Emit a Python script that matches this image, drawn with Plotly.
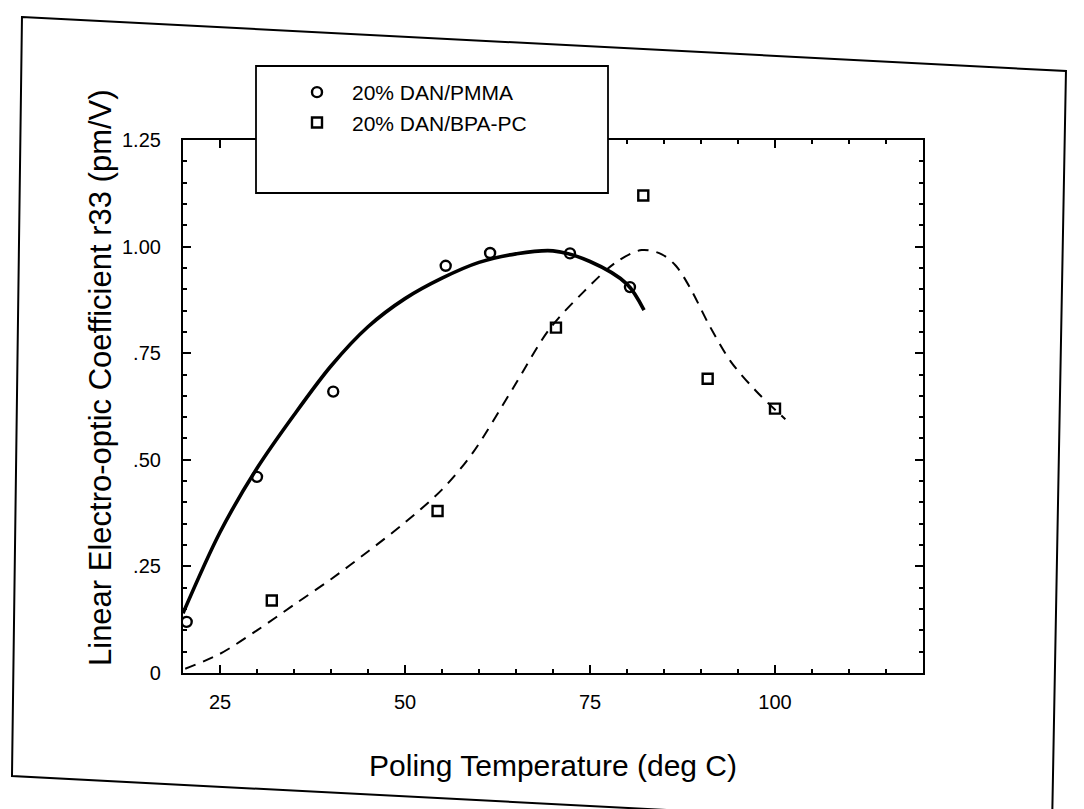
import plotly.graph_objects as go

# ---------------- data ----------------
pmma_temp = [20.5, 30, 40.3, 55.5, 61.5, 72.3, 80.4]
pmma_r33 = [0.12, 0.46, 0.66, 0.955, 0.985, 0.984, 0.905]

pc_temp = [32, 54.4, 70.4, 82.2, 90.9, 100]
pc_r33 = [0.17, 0.38, 0.81, 1.12, 0.69, 0.62]

pmma_fit_temp = [20, 25, 30, 35, 40, 45, 50, 55, 60, 65, 70, 75, 80, 82.3]
pmma_fit_r33 = [0.14, 0.33, 0.48, 0.605, 0.72, 0.812, 0.878, 0.926, 0.963, 0.983, 0.99, 0.965, 0.912, 0.851]

pc_fit_temp = [20.3, 25, 30, 35, 40, 45, 50, 55, 59.1, 64.5, 69.5, 74.2, 78.5, 82, 84.7, 86.6, 88.6, 91.1, 94, 97.4, 101.4]
pc_fit_r33 = [0.01, 0.045, 0.10, 0.16, 0.22, 0.285, 0.353, 0.43, 0.515, 0.665, 0.806, 0.895, 0.963, 0.992, 0.982, 0.955, 0.901, 0.816, 0.731, 0.662, 0.595]

x_ticks = [25, 50, 75, 100]
x_tick_text = ["25", "50", "75", "100"]
y_ticks = [0, 0.25, 0.5, 0.75, 1.0, 1.25]
y_tick_text = ["0", ".25", ".50", ".75", "1.00", "1.25"]

series_names = ["20% DAN/PMMA", "20% DAN/BPA-PC"]
x_title = "Poling Temperature (deg C)"
y_title = "Linear Electro-optic Coefficient r33 (pm/V)"

# ---------------- layout geometry ----------------
FONT = "Liberation Sans, Arial, Helvetica, sans-serif"
L, R, T, B = 183, 923, 140, 673
W, H = R - L, B - T


def paper(px, py):
    return (px - L) / W, (B - py) / H


fig = go.Figure()

fig.add_trace(go.Scatter(
    x=pmma_fit_temp, y=pmma_fit_r33, mode="lines",
    line=dict(color="black", width=3.6, shape="spline", smoothing=0.9),
    showlegend=False, hoverinfo="skip"))
fig.add_trace(go.Scatter(
    x=pc_fit_temp, y=pc_fit_r33, mode="lines",
    line=dict(color="black", width=2, shape="spline", smoothing=0.9, dash="11px,8px"),
    showlegend=False, hoverinfo="skip"))
fig.add_trace(go.Scatter(
    x=pmma_temp, y=pmma_r33, mode="markers", name=series_names[0],
    marker=dict(symbol="circle-open", size=10, color="black", line=dict(width=2.4))))
fig.add_trace(go.Scatter(
    x=pc_temp, y=pc_r33, mode="markers", name=series_names[1],
    marker=dict(symbol="square-open", size=10, color="black", line=dict(width=2.4))))

# outer (slightly skewed) frame of the scanned figure
frame = [(22, 17), (1066, 71), (1052, 830), (12, 776)]
path = "M " + " L ".join(f"{paper(*p)[0]:.4f},{paper(*p)[1]:.4f}" for p in frame) + " Z"

lx0, ly0 = paper(256, 66)
lx1, ly1 = paper(608, 193)
ytx, yty = paper(100, 378)

fig.update_layout(
    width=1084, height=809,
    margin=dict(l=L, r=1084 - R, t=T, b=809 - B),
    paper_bgcolor="white", plot_bgcolor="white",
    font=dict(family=FONT, size=20, color="black"),
    xaxis=dict(
        range=[20, 120], tickvals=x_ticks, ticktext=x_tick_text,
        showline=True, linecolor="black", linewidth=2.2, mirror="allticks",
        ticks="inside", ticklen=8, tickwidth=1.5, tickcolor="black",
        minor=dict(dtick=5, ticks="inside", ticklen=4, tickwidth=1.5, tickcolor="black"),
        showgrid=False, zeroline=False, ticklabelstandoff=10,
        title=dict(text=x_title, font=dict(size=30), standoff=43),
        tickfont=dict(size=20),
    ),
    yaxis=dict(
        range=[0, 1.25], tickvals=y_ticks, ticktext=y_tick_text,
        showline=True, linecolor="black", linewidth=2.2, mirror="allticks",
        ticks="inside", ticklen=8, tickwidth=1.5, tickcolor="black",
        minor=dict(dtick=0.05, ticks="inside", ticklen=4, tickwidth=1.5, tickcolor="black"),
        showgrid=False, zeroline=False, ticklabelstandoff=16,
        tickfont=dict(size=20),
    ),
    annotations=[
        dict(text=y_title, xref="paper", yref="paper", x=ytx, y=yty,
             xanchor="center", yanchor="middle", textangle=-90, showarrow=False,
             font=dict(size=31)),
    ],
    legend=dict(
        x=paper(282, 0)[0], y=paper(0, 72)[1], xanchor="left", yanchor="top",
        bgcolor="rgba(0,0,0,0)", borderwidth=0, font=dict(size=21),
        itemwidth=60, tracegroupgap=6,
    ),
    shapes=[
        dict(type="path", path=path, xref="paper", yref="paper",
             line=dict(color="black", width=2), layer="below"),
        dict(type="rect", xref="paper", yref="paper", x0=lx0, y0=ly0, x1=lx1, y1=ly1,
             line=dict(color="black", width=1.8), fillcolor="white", layer="above"),
    ],
    showlegend=True,
)

fig.write_html("out.html")
